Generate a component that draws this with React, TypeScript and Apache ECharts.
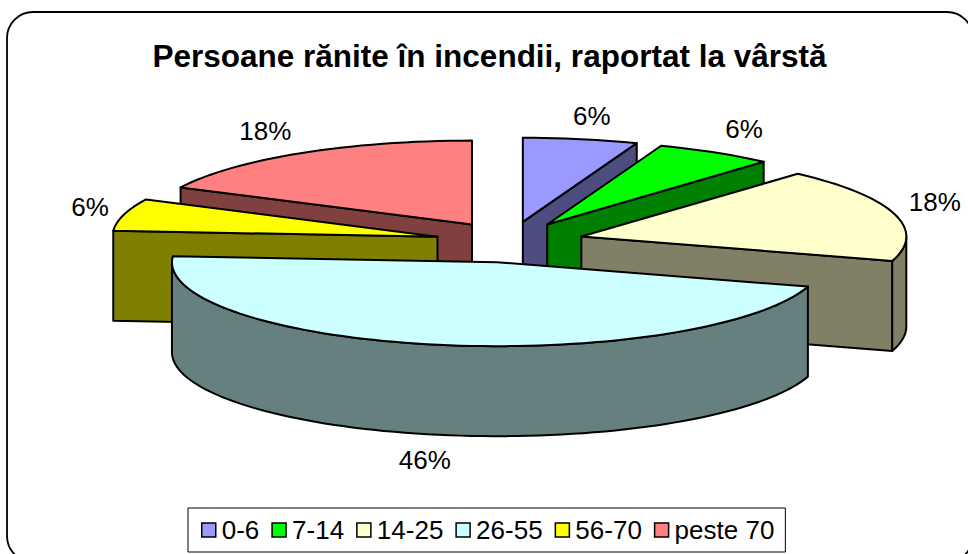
import React, { useEffect, useRef } from "react";
import * as echarts from "echarts";

const titleText = "Persoane rănite în incendii, raportat la vârstă";
const categories = ["0-6", "7-14", "14-25", "26-55", "56-70", "peste 70"];
// Shares; the labels show them rounded.
const shares = [5.7, 5.9, 18.1, 46.4, 6.2, 17.7];
const topColors = ["#9999FF", "#00FF00", "#FFFFCC", "#CCFFFF", "#FFFF00", "#FF8080"];
const sideColors = ["#4D4D80", "#008000", "#808066", "#668080", "#808000", "#804040"];

const FONT = "'Liberation Sans', Arial, sans-serif";
const PIE = { cx: 510, cy: 242, a: 325, b: 84, explodeX: 72, explodeY: 20.5, depth: 90, labelX: 40, labelY: 26 };
const SLICE_NUDGE_X = [0, 0, 2, 0, -3, 0];
const LABEL_NUDGE = [[4, 5], [8, 2], [2, -2], [-6, 3], [5, 2], [-14, 3]];
const TOTAL = shares.reduce((s, v) => s + v, 0);

function startAngle(index: number) {
  let sum = 0;
  for (let i = 0; i < index; i++) sum += shares[i];
  return (sum / TOTAL) * Math.PI * 2;
}

function rim(ax: number, ay: number, t: number): [number, number] {
  return [ax + PIE.a * Math.sin(t), ay - PIE.b * Math.cos(t)];
}

function arcPoints(ax: number, ay: number, t0: number, t1: number) {
  const n = Math.max(2, Math.ceil(((t1 - t0) / Math.PI) * 90));
  const pts: [number, number][] = [];
  for (let i = 0; i <= n; i++) pts.push(rim(ax, ay, t0 + ((t1 - t0) * i) / n));
  return pts;
}

function renderSlice(index: number) {
  return (_params: any, api: any) => {
    const value = api.value(0);
    const t0 = startAngle(index);
    const t1 = t0 + (value / TOTAL) * Math.PI * 2;
    const mid = (t0 + t1) / 2;
    const ax = PIE.cx + PIE.explodeX * Math.sin(mid) + SLICE_NUDGE_X[index];
    const ay = PIE.cy - PIE.explodeY * Math.cos(mid);
    const D = PIE.depth;
    const line = { stroke: "#000", lineWidth: 2, lineJoin: "round" };
    const side = { ...line, fill: sideColors[index] };
    const children: any[] = [];
    const wall = (t: number) => {
      const p = rim(ax, ay, t);
      children.push({
        type: "polygon",
        shape: { points: [[ax, ay], p, [p[0], p[1] + D], [ax, ay + D]] },
        style: side,
      });
    };
    if (Math.sin(t0) < 0) wall(t0);
    if (Math.sin(t1) > 0) wall(t1);
    // outer wall: the front half of the rim, between PI/2 and 3PI/2
    const f0 = Math.max(t0, Math.PI / 2);
    const f1 = Math.min(t1, (Math.PI * 3) / 2);
    if (f1 > f0) {
      const top = arcPoints(ax, ay, f0, f1);
      const bottom = top.map(([x, y]) => [x, y + D]).reverse();
      children.push({ type: "polygon", shape: { points: [...top, ...bottom] }, style: side });
    }
    children.push({
      type: "polygon",
      shape: { points: [[ax, ay], ...arcPoints(ax, ay, t0, t1)] },
      style: { ...line, fill: topColors[index] },
    });
    const lp = rim(ax, ay, mid);
    const front = Math.cos(mid) < 0;
    children.push({
      type: "text",
      x: lp[0] + PIE.labelX * Math.sin(mid) + LABEL_NUDGE[index][0],
      y: lp[1] - PIE.labelY * Math.cos(mid) + (front ? D : 0) - 3 + LABEL_NUDGE[index][1],
      style: {
        text: `${Math.round(value)}%`,
        fill: "#000",
        font: `26px ${FONT}`,
        align: "center",
        verticalAlign: "middle",
      },
    });
    return { type: "group", children };
  };
}

// Paint from the back of the pie to the front.
function depthRank(index: number) {
  const order = shares
    .map((v, i) => ({ i, key: -Math.cos(startAngle(i) + (v / TOTAL) * Math.PI) }))
    .sort((p, q) => p.key - q.key || p.i - q.i)
    .map((o) => o.i);
  return order.indexOf(index);
}

export default function App() {
  const ref = useRef<HTMLDivElement>(null);
  useEffect(() => {
    document.body.style.margin = "0";
    const chart = echarts.init(ref.current!, undefined, { renderer: "svg" });
    chart.setOption({
      animation: false,
      backgroundColor: "#fff",
      title: {
        text: titleText,
        left: 484.5,
        top: 35,
        textAlign: "center",
        textStyle: { fontFamily: FONT, fontSize: 31.5, fontWeight: "bold", color: "#000" },
      },
      legend: {
        data: categories,
        left: 188,
        top: 508,
        orient: "horizontal",
        icon: "rect",
        itemWidth: 14,
        itemHeight: 14,
        itemGap: 12,
        padding: [9, 11, 9, 13],
        borderColor: "#000",
        borderWidth: 1,
        textStyle: { fontFamily: FONT, fontSize: 26, color: "#000", padding: [0, 0, 0, 1] },
        itemStyle: { borderColor: "#000", borderWidth: 1.5 },
      },
      graphic: {
        elements: [
          {
            type: "rect",
            silent: true,
            z: -1,
            shape: { x: 7, y: 12, width: 966, height: 550, r: 26 },
            style: { fill: "none", stroke: "#000", lineWidth: 1.8 },
          },
        ],
      },
      series: categories.map((name, i) => ({
        type: "custom",
        name,
        coordinateSystem: "none",
        z: 2 + depthRank(i),
        itemStyle: { color: topColors[i] },
        renderItem: renderSlice(i),
        data: [{ name, value: [shares[i]] }],
      })),
    });
    return () => chart.dispose();
  }, []);
  return <div ref={ref} style={{ position: "absolute", left: 0, top: 0, width: 968, height: 554 }} />;
}
